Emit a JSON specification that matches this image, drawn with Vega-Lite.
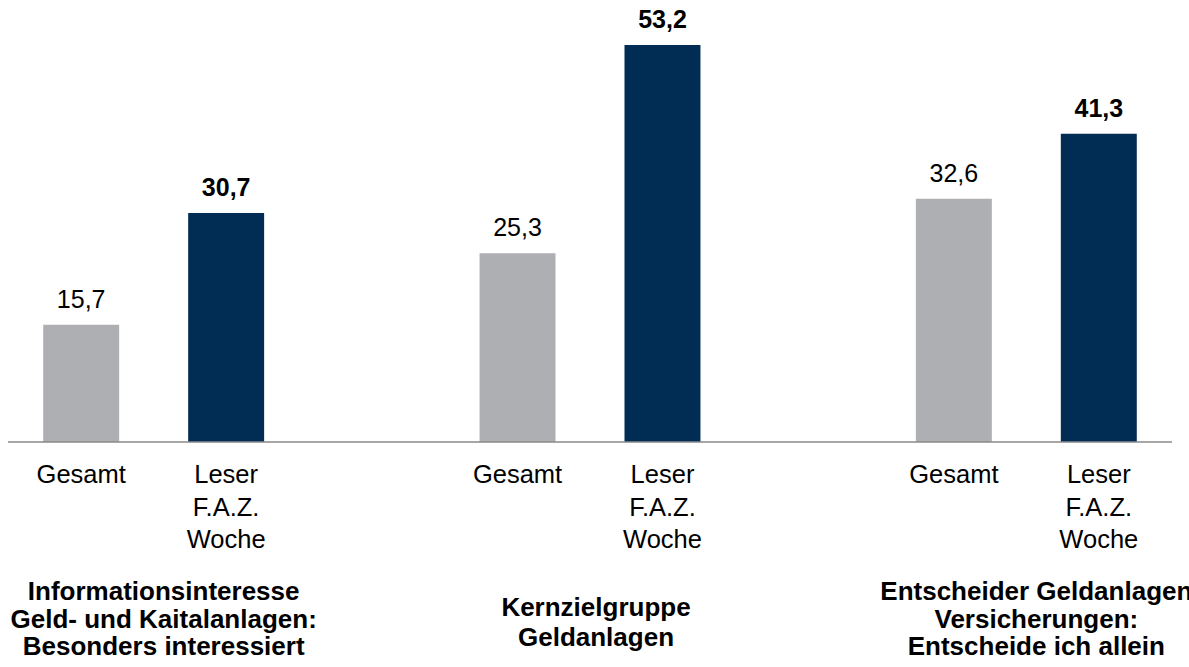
{
  "$schema": "https://vega.github.io/schema/vega-lite/v6.json",
  "width": 1164,
  "height": 442,
  "autosize": {"type": "none"},
  "padding": {"left": 8, "top": 0, "right": 17, "bottom": 225},
  "background": "white",
  "config": {
    "view": {"stroke": null},
    "font": "Liberation Sans",
    "locale": {"number": {"decimal": ",", "thousands": ".", "grouping": [3], "currency": ["", " €"]}}
  },
  "data": {
    "values": [
      {"gruppe": "Informationsinteresse\nGeld- und Kaitalanlagen:\nBesonders interessiert", "serie": "Gesamt", "wert": 15.7},
      {"gruppe": "Informationsinteresse\nGeld- und Kaitalanlagen:\nBesonders interessiert", "serie": "Leser\nF.A.Z.\nWoche", "wert": 30.7},
      {"gruppe": "Kernzielgruppe\nGeldanlagen", "serie": "Gesamt", "wert": 25.3},
      {"gruppe": "Kernzielgruppe\nGeldanlagen", "serie": "Leser\nF.A.Z.\nWoche", "wert": 53.2},
      {"gruppe": "Entscheider Geldanlagen\nVersicherungen:\nEntscheide ich allein", "serie": "Gesamt", "wert": 32.6},
      {"gruppe": "Entscheider Geldanlagen\nVersicherungen:\nEntscheide ich allein", "serie": "Leser\nF.A.Z.\nWoche", "wert": 41.3}
    ]
  },
  "layer": [
    {
      "mark": {"type": "bar"},
      "encoding": {
        "x": {"field": "gruppe", "type": "nominal", "sort": null, "axis": null, "scale": {"paddingInner": 0.4937, "paddingOuter": 0.0807}},
        "xOffset": {"field": "serie", "type": "nominal", "sort": null, "scale": {"paddingInner": 0.476, "paddingOuter": 0}},
        "y": {"field": "wert", "type": "quantitative", "axis": null, "scale": {"domain": [0, 59.23], "nice": false, "zero": true}},
        "color": {"field": "serie", "type": "nominal", "sort": null, "legend": null, "scale": {"range": ["#AEAFB3", "#012D55"]}}
      }
    },
    {
      "data": {"values": [{}]},
      "mark": {"type": "rule", "color": "#8a8a8a", "strokeWidth": 1.5},
      "encoding": {"y": {"datum": 0}}
    },
    {
      "transform": [{"filter": "datum.serie == 'Gesamt'"}],
      "mark": {"type": "text", "fontSize": 25, "baseline": "alphabetic", "align": "center", "dy": -17, "color": "#000000"},
      "encoding": {
        "x": {"field": "gruppe", "type": "nominal", "sort": null},
        "xOffset": {"field": "serie", "type": "nominal", "sort": null},
        "y": {"field": "wert", "type": "quantitative"},
        "text": {"field": "wert", "type": "quantitative", "format": ".1f"}
      }
    },
    {
      "transform": [{"filter": "datum.serie != 'Gesamt'"}],
      "mark": {"type": "text", "fontSize": 25, "fontWeight": "bold", "baseline": "alphabetic", "align": "center", "dy": -17, "color": "#000000"},
      "encoding": {
        "x": {"field": "gruppe", "type": "nominal", "sort": null},
        "xOffset": {"field": "serie", "type": "nominal", "sort": null},
        "y": {"field": "wert", "type": "quantitative"},
        "text": {"field": "wert", "type": "quantitative", "format": ".1f"}
      }
    },
    {
      "mark": {"type": "text", "fontSize": 25.5, "baseline": "alphabetic", "align": "center", "dy": 41, "lineBreak": "\n", "lineHeight": 32.5, "color": "#000000"},
      "encoding": {
        "x": {"field": "gruppe", "type": "nominal", "sort": null},
        "xOffset": {"field": "serie", "type": "nominal", "sort": null},
        "y": {"datum": 0},
        "text": {"field": "serie", "type": "nominal"}
      }
    },
    {
      "transform": [{"filter": "datum.serie == 'Gesamt' && datum.gruppe != 'Kernzielgruppe\\nGeldanlagen'"}],
      "mark": {"type": "text", "fontSize": 26, "fontWeight": "bold", "baseline": "alphabetic", "align": "center", "dy": 158, "dx": 10, "lineBreak": "\n", "lineHeight": 27.5, "color": "#000000"},
      "encoding": {
        "x": {"field": "gruppe", "type": "nominal", "sort": null},
        "y": {"datum": 0},
        "text": {"field": "gruppe", "type": "nominal"}
      }
    },
    {
      "transform": [{"filter": "datum.serie == 'Gesamt' && datum.gruppe == 'Kernzielgruppe\\nGeldanlagen'"}],
      "mark": {"type": "text", "fontSize": 26, "fontWeight": "bold", "baseline": "alphabetic", "align": "center", "dy": 174, "dx": 6, "lineBreak": "\n", "lineHeight": 30, "color": "#000000"},
      "encoding": {
        "x": {"field": "gruppe", "type": "nominal", "sort": null},
        "y": {"datum": 0},
        "text": {"field": "gruppe", "type": "nominal"}
      }
    }
  ]
}
